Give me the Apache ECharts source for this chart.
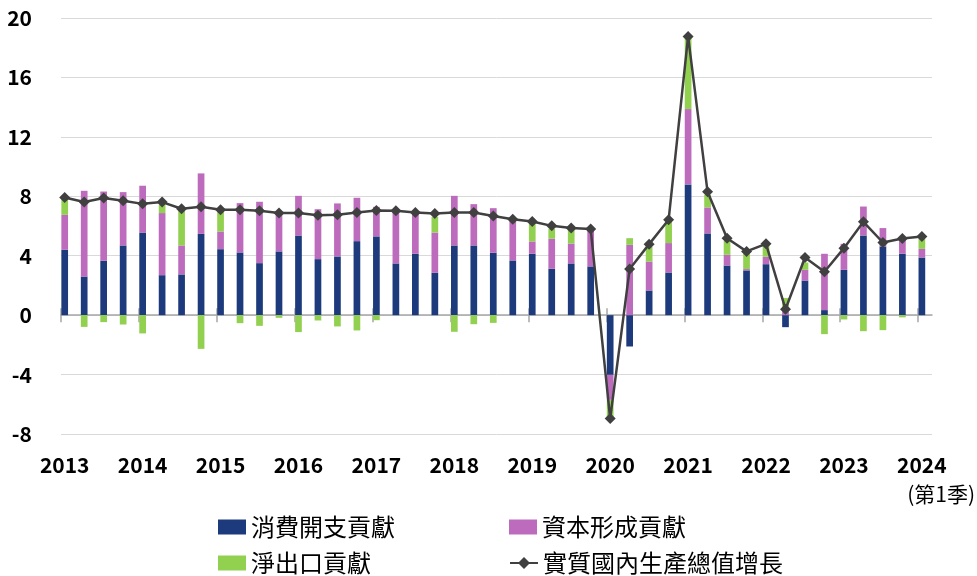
<!DOCTYPE html>
<html>
<head>
<meta charset="utf-8">
<title>GDP contribution</title>
<script src="https://cdn.jsdelivr.net/npm/echarts@6/dist/echarts.min.js"></script>
<style>
html, body { margin: 0; padding: 0; background: #fff; }
#main { width: 977px; height: 576px; }
</style>
</head>
<body>
<div id="main"></div>
<script>
// 年份标签 (每年第一季)
var years = ['2013', '2014', '2015', '2016', '2017', '2018', '2019', '2020', '2021', '2022', '2023', '2024'];

// 2013Q1 - 2024Q1 各季贡献 (百分点)
var consumption = [
    4.40, 2.60, 3.66, 4.69,
    5.56, 2.69, 2.74, 5.47,
    4.44, 4.22, 3.50, 4.29,
    5.36, 3.77, 3.95, 4.98,
    5.30, 3.48, 4.13, 2.85,
    4.69, 4.69, 4.20, 3.68,
    4.13, 3.12, 3.48, 3.28,
    -4.02, -2.11, 1.66, 2.87,
    8.80, 5.50, 3.34, 3.01,
    3.43, -0.81, 2.33, 0.34,
    3.05, 5.36, 4.62, 4.13,
    3.88
];
var capital = [
    2.35, 5.77, 4.66, 3.59,
    3.15, 4.18, 1.95, 4.07,
    1.19, 3.32, 4.13, 2.58,
    2.67, 3.36, 3.57, 2.92,
    1.99, 3.50, 2.74, 2.71,
    3.34, 2.78, 3.00, 2.74,
    0.83, 2.02, 1.34, 2.46,
    -1.68, 4.73, 1.95, 1.98,
    5.07, 1.75, 0.72, 0.09,
    0.50, 0.25, 0.72, 3.79,
    1.75, 1.95, 1.24, 1.05,
    0.58
];
var netExports = [
    1.20, -0.79, -0.47, -0.63,
    -1.23, 0.56, 2.40, -2.27,
    1.41, -0.54, -0.72, -0.18,
    -1.14, -0.36, -0.76, -1.03,
    -0.34, 0, 0, 1.05,
    -1.12, -0.61, -0.52, 0,
    1.23, 0.67, 0.92, 0,
    -1.23, 0.45, 1.00, 1.45,
    4.77, 0.85, 0.94, 1.03,
    0.75, 0.90, 0.49, -1.28,
    -0.29, -1.08, -1.01, -0.15,
    0.66
];
// 实质GDP增长 (%)
var gdp = [
    7.92, 7.61, 7.88, 7.70,
    7.49, 7.61, 7.16, 7.29,
    7.09, 7.09, 7.02, 6.87,
    6.87, 6.73, 6.75, 6.91,
    7.04, 7.02, 6.91, 6.84,
    6.91, 6.91, 6.68, 6.46,
    6.30, 6.01, 5.86, 5.79,
    -6.96, 3.10, 4.78, 6.42,
    18.76, 8.30, 5.18, 4.29,
    4.80, 0.40, 3.88, 2.92,
    4.51, 6.28, 4.89, 5.16,
    5.30
];

var names = ['消費開支貢獻', '資本形成貢獻', '淨出口貢獻', '實質國內生產總值增長'];
var color = ['#1d3b7c', '#bc6bbd', '#92d050', '#404040'];
var font = '"Noto Sans CJK TC", "Noto Sans", sans-serif';

// x 轴: 每季一个单位, 柱在整数位置
var xMin = -0.19, xMax = 44.52;
var labelPos = years.map(function (y, k) { return k * 4; });
var tickPos = labelPos.map(function (v) { return v - 0.19; });

// [数值, 季度序号], 数值放第一维以便按序号堆叠
function toVX(arr) {
    return arr.map(function (v, i) { return [v, i]; });
}

function barSeries(idx, arr) {
    return {
        name: names[idx],
        type: 'bar',
        stack: 'gdp',
        barWidth: 6.7,
        encode: { x: 1, y: 0 },
        itemStyle: { color: color[idx] },
        data: toVX(arr)
    };
}

function xAxisBase(extra) {
    var ax = {
        type: 'value',
        min: xMin,
        max: xMax,
        splitLine: { show: false },
        axisLabel: { show: false },
        axisTick: { show: false },
        axisLine: { show: false }
    };
    for (var k in extra) ax[k] = extra[k];
    return ax;
}

function legendItem(name, icon, left, top) {
    var item = { name: name };
    if (icon) item.icon = icon;
    return {
        data: [item],
        left: left, top: top,
        padding: 0,
        itemWidth: 28, itemHeight: 15,
        textStyle: { fontSize: 24, color: '#000', fontFamily: font }
    };
}

var option = {
    animation: false,
    backgroundColor: '#fff',
    grid: { left: 61, right: 45, top: 18, bottom: 142 },
    legend: [
        legendItem(names[0], 'rect', 218, 515),
        legendItem(names[1], 'rect', 509, 515),
        legendItem(names[2], 'rect', 218, 551),
        legendItem(names[3], null, 509, 551)
    ],
    graphic: [{
        type: 'text', right: 2, top: 484,
        style: { text: '(第1季)', fontSize: 21, fill: '#000', fontFamily: font }
    }],
    xAxis: [
        // 零线 + 向下刻度
        xAxisBase({
            position: 'bottom',
            axisLine: { show: true, onZero: true, onZeroAxisIndex: 0, lineStyle: { color: '#a6a6a6', width: 1.5 } },
            axisTick: { show: true, customValues: tickPos, length: 7, lineStyle: { color: '#a6a6a6', width: 1.5 } }
        }),
        // 向上刻度
        xAxisBase({
            position: 'bottom',
            axisLine: { show: false, onZero: true, onZeroAxisIndex: 0 },
            axisTick: { show: true, inside: true, customValues: tickPos, length: 7, lineStyle: { color: '#a6a6a6', width: 1.5 } }
        }),
        // 年份标签
        xAxisBase({
            position: 'bottom',
            axisLine: { show: false, onZero: false },
            axisLabel: {
                show: true,
                customValues: labelPos,
                margin: 21,
                fontSize: 21,
                fontWeight: 600,
                color: '#000',
                fontFamily: font,
                formatter: function (v) { return years[Math.round(v / 4)]; }
            }
        })
    ],
    yAxis: {
        type: 'value',
        min: -8,
        max: 20,
        interval: 4,
        axisLine: { show: false },
        axisTick: { show: false },
        splitLine: { lineStyle: { color: '#d9d9d9', width: 1 } },
        axisLabel: { fontSize: 21, fontWeight: 600, color: '#000', margin: 29, fontFamily: font }
    },
    series: [
        barSeries(0, consumption),
        barSeries(1, capital),
        barSeries(2, netExports),
        {
            name: names[3],
            type: 'line',
            z: 5,
            symbol: 'diamond',
            symbolSize: 11,
            lineStyle: { color: color[3], width: 2.5 },
            itemStyle: { color: color[3] },
            data: gdp.map(function (v, i) { return [i, v]; })
        }
    ]
};

var myChart = echarts.init(document.getElementById('main'));
myChart.setOption(option);
</script>
</body>
</html>
